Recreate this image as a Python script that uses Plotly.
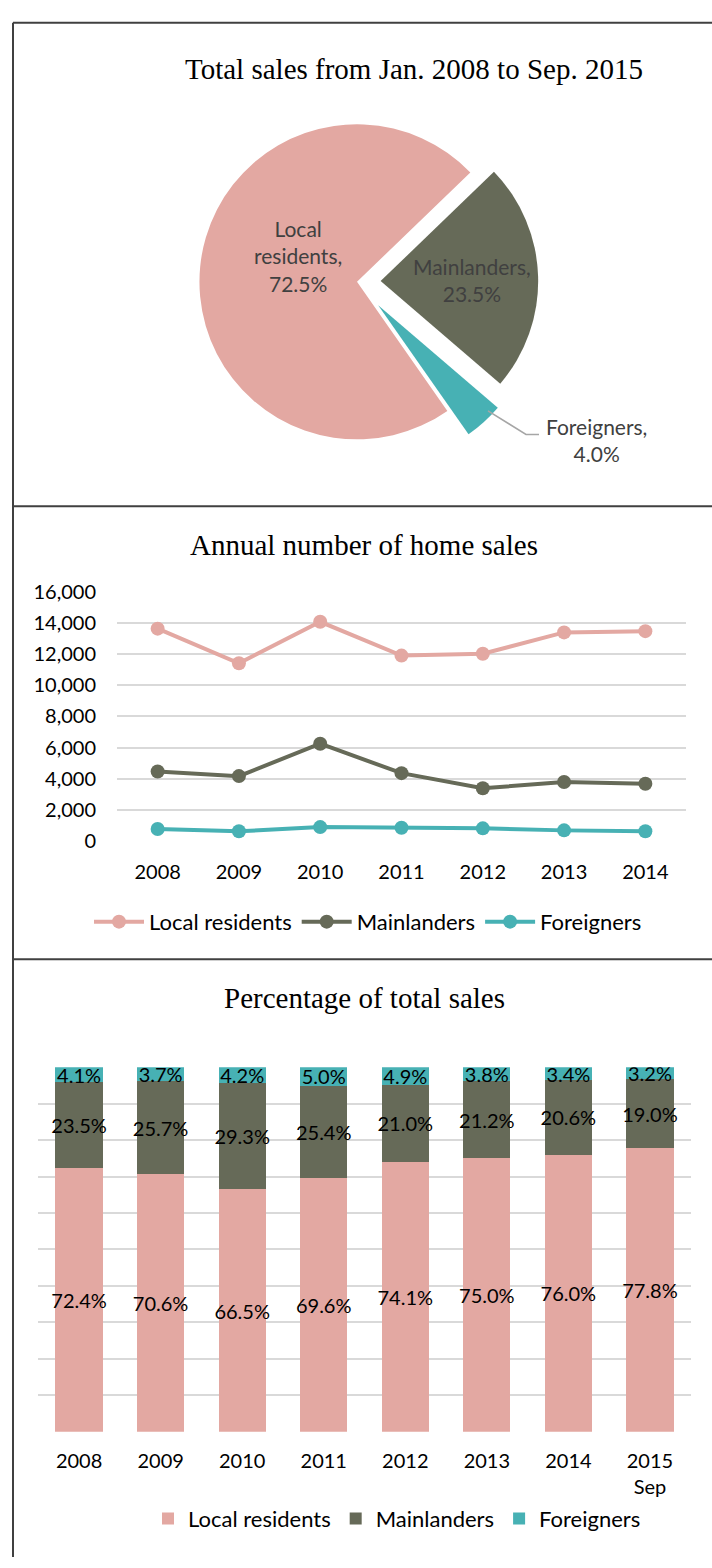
import plotly.graph_objects as go

W, H = 712, 1568

# ---------------- data ----------------
pie_labels = ["Local residents", "Mainlanders", "Foreigners"]
pie_values = [72.5, 23.5, 4.0]

line_years = ["2008", "2009", "2010", "2011", "2012", "2013", "2014"]
line_local = [13630, 11410, 14070, 11900, 12020, 13390, 13470]
line_mainland = [4470, 4170, 6250, 4360, 3390, 3790, 3680]
line_foreign = [780, 630, 900, 860, 820, 690, 630]

bar_years = ["2008", "2009", "2010", "2011", "2012", "2013", "2014", "2015<br>Sep"]
bar_local = [72.4, 70.6, 66.5, 69.6, 74.1, 75.0, 76.0, 77.8]
bar_mainland = [23.5, 25.7, 29.3, 25.4, 21.0, 21.2, 20.6, 19.0]
bar_foreign = [4.1, 3.7, 4.2, 5.0, 4.9, 3.8, 3.4, 3.2]

series_names = ["Local residents", "Mainlanders", "Foreigners"]
colors = ["#E3A8A2", "#666A58", "#47B1B4"]

SANS = "Lato, 'Open Sans', sans-serif"
SERIF = "'Liberation Serif', 'Times New Roman', serif"


def px(x):
    return x / W


def py(y):
    return 1 - y / H


fig = go.Figure()

# ---------------- pie ----------------
cx, cy, radius = 357, 273, 160
pulls = [0, 0.15, 0.2]
box = 2 * radius * (1 + max(pulls))
fig.add_trace(go.Pie(
    labels=pie_labels, values=pie_values, sort=False, direction="clockwise",
    rotation=145, pull=pulls, textinfo="none", showlegend=False,
    marker=dict(colors=colors, line=dict(width=0)),
    domain=dict(x=[px(cx - box / 2), px(cx + box / 2)],
                y=[py(cy + box / 2), py(cy - box / 2)]),
))

# ---------------- lines ----------------
for name, vals, c in zip(series_names, [line_local, line_mainland, line_foreign], colors):
    fig.add_trace(go.Scatter(
        x=line_years, y=vals, name=name, mode="lines+markers",
        line=dict(color=c, width=4), marker=dict(color=c, size=14),
        xaxis="x", yaxis="y", legend="legend",
    ))

# ---------------- bars ----------------
for name, vals, c in zip(series_names, [bar_local, bar_mainland, bar_foreign], colors):
    fig.add_trace(go.Bar(
        x=bar_years, y=vals, name=name, marker=dict(color=c, line=dict(width=0)),
        text=[f"{v:.1f}%" for v in vals], textposition="inside",
        insidetextanchor="middle", textangle=0, constraintext="none",
        textfont=dict(family=SANS, size=20, color="#000000"),
        xaxis="x2", yaxis="y2", legend="legend2",
    ))

fig.update_layout(
    width=W, height=H, margin=dict(l=0, r=0, t=0, b=0),
    paper_bgcolor="white", plot_bgcolor="white",
    font=dict(family=SANS, size=20, color="#000000"),
    barmode="stack", bargap=0.42,
    xaxis=dict(domain=[px(117), px(686)], type="category", range=[-0.5, 6.5],
               showgrid=False, zeroline=False, showline=False, ticks="",
               ticklabelstandoff=17, anchor="y",
               tickfont=dict(family=SANS, size=20, color="#000")),
    yaxis=dict(domain=[py(841), py(587.7)], range=[0, 16000], dtick=2000,
               tickformat=",d", showgrid=True, gridcolor="#D9D9D9", gridwidth=1.5,
               zeroline=False, showline=False, ticks="", ticklabelstandoff=20,
               anchor="x", tickfont=dict(family=SANS, size=20, color="#000")),
    xaxis2=dict(domain=[px(38.3), px(690.7)], type="category", range=[-0.5, 7.5],
                showgrid=False, zeroline=False, showline=False, ticks="",
                ticklabelstandoff=15, anchor="y2",
                tickfont=dict(family=SANS, size=20, color="#000")),
    yaxis2=dict(domain=[py(1440.7), py(1070.7)], range=[0, 100], dtick=10,
                showgrid=True, gridcolor="#D9D9D9", gridwidth=1.5,
                zeroline=False, showline=False, showticklabels=False, ticks="",
                anchor="x2"),
    legend=dict(orientation="h", x=px(368), xanchor="center", y=py(923),
                yanchor="middle", font=dict(family=SANS, size=22, color="#000"),
                bgcolor="rgba(0,0,0,0)", itemwidth=50),
    legend2=dict(orientation="h", x=px(397), xanchor="center", y=py(1529),
                 yanchor="middle", font=dict(family=SANS, size=22, color="#000"),
                 bgcolor="rgba(0,0,0,0)", traceorder="normal"),
)

# ---------------- titles ----------------
titles = [("Total sales from Jan. 2008 to Sep. 2015", 414, 57, 29),
          ("Annual number of home sales", 364, 540, 29),
          ("Percentage of total sales", 364, 1000, 29)]
for t, x, y, s in titles:
    fig.add_annotation(text=t, x=px(x), y=py(y), xref="paper", yref="paper",
                       showarrow=False, xanchor="center", yanchor="middle",
                       font=dict(family=SERIF, size=s, color="#000"))

# ---------------- pie labels ----------------
label_pos = [(298, 247), (472, 271), (596, 434)]
for name, v, (x, y) in zip(pie_labels, pie_values, label_pos):
    txt = name.replace(" ", "<br>") + ",<br>" + f"{v:.1f}%"
    fig.add_annotation(text=txt, x=px(x), y=py(y), xref="paper", yref="paper",
                       showarrow=False, xanchor="center", yanchor="middle",
                       align="center",
                       font=dict(family=SANS, size=21, color="#404040"))

# leader line for Foreigners
pts = [(488, 404), (526, 428), (539, 428)]
path = "M " + " L ".join(f"{px(a):.5f},{py(b):.5f}" for a, b in pts)
fig.add_shape(type="path", path=path, xref="paper", yref="paper",
              line=dict(color="#A6A6A6", width=1.5))

# ---------------- panel borders ----------------
bc = "#404040"
fig.add_shape(type="line", x0=px(13), x1=px(13), y0=py(10), y1=0,
              xref="paper", yref="paper", line=dict(color=bc, width=2))
for yy in [10, 501, 961]:
    fig.add_shape(type="line", x0=px(13), x1=1, y0=py(yy), y1=py(yy),
                  xref="paper", yref="paper", line=dict(color=bc, width=2))

fig.write_html("out.html")
